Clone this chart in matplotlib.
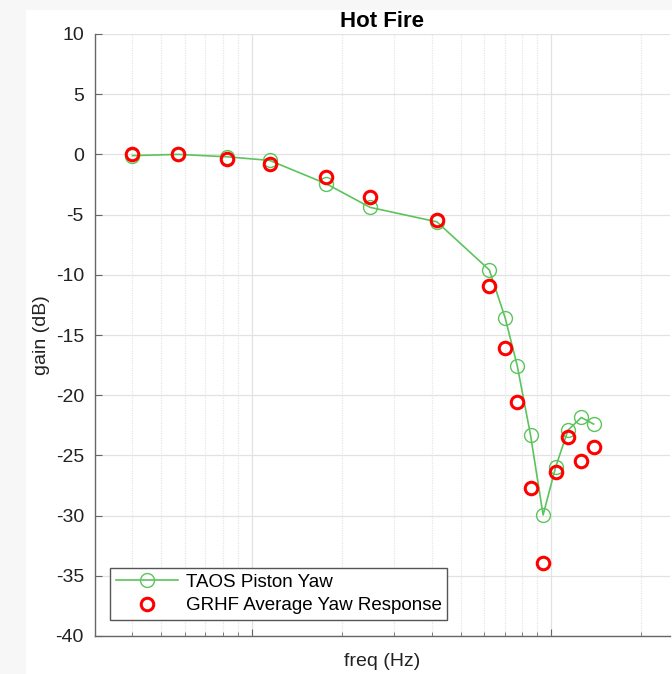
import matplotlib.pyplot as plt
import matplotlib.patches as patches
from matplotlib.ticker import LogLocator, NullFormatter, MultipleLocator

plt.rcParams['font.family'] = ['Liberation Sans', 'DejaVu Sans']
plt.rcParams['axes.unicode_minus'] = False

# data (freq in Hz, gain in dB)
freq = [4.0, 5.7, 8.3, 11.5, 17.8, 24.9, 41.6, 62.3, 70.3, 77.2,
        85.5, 94.2, 103.8, 114.1, 126.4, 138.9]
taos_gain = [-0.1, 0.0, -0.2, -0.5, -2.45, -4.4, -5.6, -9.6, -13.55, -17.55,
             -23.3, -29.95, -25.95, -22.9, -21.85, -22.4]
grhf_gain = [0.0, 0.0, -0.35, -0.8, -1.9, -3.5, -5.45, -10.9, -16.1, -20.6,
             -27.7, -33.9, -26.35, -23.5, -25.5, -24.3]

fig = plt.figure(figsize=(6.72, 6.74), dpi=100, facecolor='#f7f7f7')
# white panel (the grey strip on left / top is screenshot border)
fig.patches.append(patches.Rectangle((26 / 672, 0), 1, 664 / 674,
                                     transform=fig.transFigure,
                                     facecolor='white', edgecolor='none',
                                     zorder=-10))

ax = fig.add_axes([95 / 672, 38 / 674, 575 / 672, 602 / 674])

ax.plot(freq, taos_gain, '-o', color='#5cc45c', lw=1.2,
        markersize=10, markerfacecolor='none', markeredgewidth=1.0,
        label='TAOS Piston Yaw', zorder=3)
ax.plot(freq, grhf_gain, 'o', color='red', linestyle='none',
        markersize=9, markerfacecolor='none', markeredgewidth=2.2,
        label='GRHF Average Yaw Response', zorder=4)

ax.set_xscale('log')
ax.set_xlim(3, 250)
ax.set_ylim(-40, 10)
ax.yaxis.set_major_locator(MultipleLocator(5))
ax.xaxis.set_major_locator(LogLocator(base=10))
ax.xaxis.set_minor_locator(LogLocator(base=10, subs=range(2, 10)))
ax.xaxis.set_minor_formatter(NullFormatter())

ax.grid(True, which='major', color='#e2e2e2', lw=0.9)
ax.grid(True, which='minor', axis='x', color='#e6e6e6', lw=0.9, ls=(0, (1, 1)))
ax.set_axisbelow(True)

for s in ['top', 'right']:
    ax.spines[s].set_visible(False)
for s in ['left', 'bottom']:
    ax.spines[s].set_color('#666666')
    ax.spines[s].set_linewidth(1.0)

ax.tick_params(which='both', direction='in', color='#666666')
ax.tick_params(which='major', length=5)
ax.tick_params(which='minor', length=3)
ax.tick_params(axis='y', labelsize=14, pad=8, labelcolor='#222222')
ax.tick_params(axis='x', labelbottom=False)

ax.set_xlabel('freq (Hz)', fontsize=14, labelpad=9, color='#222222')
ax.set_ylabel('gain (dB)', fontsize=14, labelpad=4, color='#222222')
ax.set_title('Hot Fire', fontsize=16, fontweight='bold', pad=5)

leg = ax.legend(loc='lower left', bbox_to_anchor=(110 / 672, 54 / 674),
                bbox_transform=fig.transFigure, fontsize=13.5, fancybox=False,
                framealpha=1, edgecolor='#555555', handlelength=3.3,
                handletextpad=0.45, labelspacing=0.35, borderpad=0.3,
                borderaxespad=0)
leg.get_frame().set_linewidth(1.0)

fig.savefig('out.png', dpi=100)
